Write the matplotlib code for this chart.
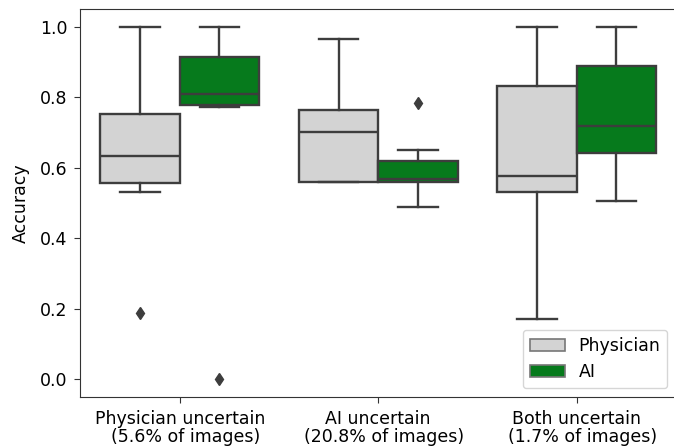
import matplotlib
matplotlib.use("Agg")
import matplotlib.pyplot as plt
from matplotlib.patches import Patch

# categories and groups
categories = ["Physician uncertain\n  (5.6% of images)",
              "AI uncertain\n  (20.8% of images)",
              "Both uncertain\n  (1.7% of images)"]
groups = ["Physician", "AI"]

# box statistics (per category)
phys_whislo = [0.531, 0.561, 0.171]
phys_q1 = [0.558, 0.561, 0.531]
phys_med = [0.632, 0.702, 0.577]
phys_q3 = [0.752, 0.764, 0.833]
phys_whishi = [1.0, 0.966, 1.0]
phys_fliers = [[0.188], [], []]

ai_whislo = [0.773, 0.490, 0.505]
ai_q1 = [0.779, 0.561, 0.643]
ai_med = [0.808, 0.567, 0.717]
ai_q3 = [0.915, 0.620, 0.889]
ai_whishi = [1.0, 0.651, 1.0]
ai_fliers = [[0.0], [0.785], []]

colors = {"Physician": "#d3d3d3", "AI": "#067a1c"}
line_col = "#3d3d3d"
lw = 1.7
fs = 12.5


def make_stats(lo, q1, med, q3, hi, fl):
    out = []
    for i in range(len(lo)):
        out.append(dict(whislo=lo[i], q1=q1[i], med=med[i], q3=q3[i],
                        whishi=hi[i], fliers=fl[i]))
    return out


stats = {
    "Physician": make_stats(phys_whislo, phys_q1, phys_med, phys_q3, phys_whishi, phys_fliers),
    "AI": make_stats(ai_whislo, ai_q1, ai_med, ai_q3, ai_whishi, ai_fliers),
}
offsets = {"Physician": -0.2, "AI": 0.2}

fig = plt.figure(figsize=(6.74, 4.48), dpi=100)
ax = fig.add_axes([0.1194, 0.1138, 0.8835, 0.866])

for g in groups:
    pos = [i + offsets[g] for i in range(len(categories))]
    ax.bxp(stats[g], positions=pos, widths=0.4, patch_artist=True,
           boxprops=dict(facecolor=colors[g], edgecolor=line_col, linewidth=lw),
           medianprops=dict(color=line_col, linewidth=lw),
           whiskerprops=dict(color=line_col, linewidth=lw),
           capprops=dict(color=line_col, linewidth=lw),
           flierprops=dict(marker="d", markerfacecolor=line_col,
                           markeredgecolor=line_col, markersize=6.5),
           capwidths=0.2, manage_ticks=False)

ax.set_xlim(-0.5, 2.5)
ax.set_ylim(-0.05, 1.05)
ax.set_xticks(range(len(categories)))
ax.set_xticklabels(categories, fontsize=fs, linespacing=1.0)
ax.set_yticks([0.0, 0.2, 0.4, 0.6, 0.8, 1.0])
ax.set_yticklabels(["0.0", "0.2", "0.4", "0.6", "0.8", "1.0"], fontsize=fs)
ax.tick_params(length=4.5, pad=5, color="#333333")
ax.set_ylabel("Accuracy", fontsize=fs, labelpad=7)
for s in ax.spines.values():
    s.set_color("#333333")

handles = [Patch(facecolor=colors[g], edgecolor="#777777", linewidth=1.2, label=g) for g in groups]
ax.legend(handles=handles, loc="lower right", fontsize=fs)

fig.savefig("out.png", dpi=100)
